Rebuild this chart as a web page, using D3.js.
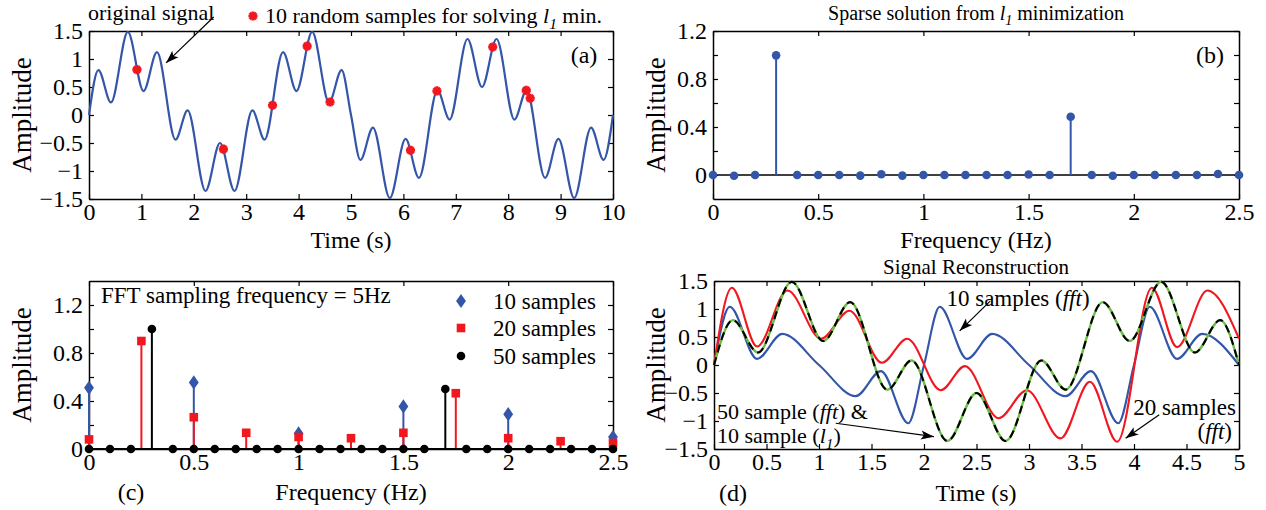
<!DOCTYPE html>
<html><head><meta charset="utf-8">
<script src="https://cdn.jsdelivr.net/npm/d3@7"></script>
<style>
body{margin:0;background:#fff;}
svg text{font-family:"Liberation Serif","Times New Roman",serif;fill:#000;}
</style></head>
<body><svg id="chart" width="1266" height="510"></svg>
<script>
// ---------- DATA ----------
// (a) original signal: extrema / crossings
const signalTime = [0,0.179,0.419,0.741,1.041,1.297,1.651,1.882,2.223,2.5,2.777,3.118,3.350,3.703,3.959,4.259,4.581,4.821,5.0,5.179,5.419,5.741,6.041,6.297,6.650,6.882,7.223,7.5,7.777,8.118,8.350,8.703,8.959,9.259,9.581,9.821,10];
const signalAmp  = [0,0.802,0.224,1.484,0.428,1.122,-0.441,0.081,-1.357,-0.5,-1.357,0.081,-0.439,1.122,0.428,1.484,0.224,0.802,0,-0.802,-0.224,-1.484,-0.428,-1.122,0.439,-0.081,1.357,0.5,1.357,-0.081,0.441,-1.122,-0.428,-1.484,-0.224,-0.802,0];
// (a) 10 random samples
const sampleTime = [0.915,2.565,3.503,4.163,4.60,6.135,6.64,7.705,8.345,8.42];
const sampleAmp  = [0.81,-0.61,0.175,1.23,0.232,-0.63,0.43,1.215,0.44,0.30];
// (b) sparse l1 solution
const l1Freq = [0,0.1,0.2,0.3,0.4,0.5,0.6,0.7,0.8,0.9,1.0,1.1,1.2,1.3,1.4,1.5,1.6,1.7,1.8,1.9,2.0,2.1,2.2,2.3,2.4,2.5];
const l1Amp  = [0,-0.006,0,0.997,0,0,0,-0.005,0.006,-0.005,0,0,0,0,0,0.004,0,0.485,0,-0.006,0,0,0,0,0.008,0];
// (c) FFT spectra
const fft10Freq = [0,0.5,1.0,1.5,2.0,2.5];
const fft10Amp  = [0.51,0.555,0.13,0.355,0.29,0.10];
const fft20Freq = [0,0.25,0.5,0.75,1.0,1.25,1.5,1.75,2.0,2.25,2.5];
const fft20Amp  = [0.08,0.90,0.265,0.135,0.10,0.09,0.135,0.465,0.09,0.065,0.05];
const fft50Freq = [0,0.1,0.2,0.3,0.4,0.5,0.6,0.7,0.8,0.9,1.0,1.1,1.2,1.3,1.4,1.5,1.6,1.7,1.8,1.9,2.0,2.1,2.2,2.3,2.4,2.5];
const fft50Amp  = [0,0,0,1.0,0,0,0,0,0,0,0,0,0,0,0,0,0,0.50,0,0,0,0,0,0,0,0];
// (d) reconstructions
const rec10Time = [0,0.15,0.41,0.65,1.0,1.35,1.59,1.85,2.0,2.15,2.41,2.65,3.0,3.35,3.59,3.85,4.0,4.15,4.41,4.65,5.0];
const rec10Amp  = [0,1.04,0.11,0.555,0,-0.555,-0.11,-1.04,0,1.04,0.11,0.555,0,-0.555,-0.11,-1.04,0,1.04,0.11,0.555,0];
const rec20Time = [0,0.17,0.41,0.70,1.02,1.29,1.60,1.84,2.16,2.39,2.71,2.98,3.30,3.58,3.84,4.17,4.41,4.70,5.0];
const rec20Amp  = [0,1.38,0.33,1.33,0.47,0.97,0.04,0.47,-0.45,-0.02,-0.95,-0.45,-1.31,-0.30,-1.37,1.38,0.32,1.33,0.47];
const recL1Time = signalTime.slice(0,19);   // 50-sample fft & 10-sample l1 (identical to original)
const recL1Amp  = signalAmp.slice(0,19);
// tick values / labels
const timeTicksA = [0,1,2,3,4,5,6,7,8,9,10];
const timeLabelsA = ["0","1","2","3","4","5","6","7","8","9","10"];
const ampTicks = [-1.5,-1,-0.5,0,0.5,1,1.5];
const ampLabels = ["\u22121.5","\u22121","\u22120.5","0","0.5","1","1.5"];
const freqTicks = [0,0.5,1,1.5,2,2.5];
const freqLabels = ["0","0.5","1","1.5","2","2.5"];
const specTicks = [0,0.2,0.4,0.6,0.8,1.0,1.2];
const specLabels = ["0","","0.4","","0.8","","1.2"];
const timeTicksD = [0,0.5,1,1.5,2,2.5,3,3.5,4,4.5,5];
const timeLabelsD = ["0","0.5","1","1.5","2","2.5","3","3.5","4","4.5","5"];

// ---------- STYLE ----------
const BLUE="#3456a8", RED="#f2171f", GREEN="#6cbd45", BLACK="#000";
const TICK_FS=24, LABEL_FS=24, YLABEL_FS=27, TEXT_FS=23;
const svg = d3.select("#chart");

function panel(x0,x1,y0,y1,xd,yd,xt,xl,yt,yl){
  const x = d3.scaleLinear().domain(xd).range([x0,x1]);
  const y = d3.scaleLinear().domain(yd).range([y1,y0]);
  const g = svg.append("g");
  const style = s => {
    s.attr("font-family",null).attr("font-size",null);
    s.selectAll("text").attr("font-size",TICK_FS).attr("fill","#000");
    s.select(".domain").attr("stroke","#000").attr("stroke-width",1.5);
    s.selectAll(".tick line").attr("stroke","#000").attr("stroke-width",1.2);
  };
  g.append("g").attr("transform",`translate(0,${y1})`)
    .call(d3.axisBottom(x).tickValues(xt).tickFormat((d,i)=>xl[i]).tickSizeInner(-5).tickSizeOuter(0).tickPadding(4)).call(style);
  g.append("g").attr("transform",`translate(0,${y0})`)
    .call(d3.axisTop(x).tickValues(xt).tickFormat("").tickSizeInner(-5).tickSizeOuter(0)).call(style);
  g.append("g").attr("transform",`translate(${x0},0)`)
    .call(d3.axisLeft(y).tickValues(yt).tickFormat((d,i)=>yl[i]).tickSizeInner(-5).tickSizeOuter(0).tickPadding(6)).call(style);
  g.append("g").attr("transform",`translate(${x1},0)`)
    .call(d3.axisRight(y).tickValues(yt).tickFormat("").tickSizeInner(-5).tickSizeOuter(0)).call(style);
  return {x,y,g};
}
function rich(g,x,y,parts,anchor,fs){
  const f = fs||TEXT_FS;
  const t = g.append("text").attr("x",x).attr("y",y).attr("font-size",f).attr("text-anchor",anchor||"start");
  let shift=0;
  parts.forEach(p=>{
    const s = t.append("tspan").text(p[0]);
    if(p[1]==="i") s.attr("font-style","italic");
    if(p[1]==="sub"){ s.attr("font-style","italic").attr("font-size",f*0.7).attr("dy",f*0.25); shift=f*0.25; }
    else if(shift){ s.attr("dy",-shift); shift=0; }
  });
  return t;
}
function arrow(g,x1,y1,x2,y2){
  g.append("line").attr("x1",x1).attr("y1",y1).attr("x2",x2).attr("y2",y2).attr("stroke","#000").attr("stroke-width",1.2);
  const a = Math.atan2(y2-y1,x2-x1)*180/Math.PI;
  g.append("path").attr("d","M0,0 L-13,-4.5 L-10,0 L-13,4.5 Z").attr("fill","#000")
    .attr("transform",`translate(${x2},${y2}) rotate(${a})`);
}
function ylabel(g,cx,cy,txt){
  g.append("text").attr("transform",`translate(${cx},${cy}) rotate(-90)`).attr("text-anchor","middle")
    .attr("font-size",YLABEL_FS).text(txt);
}
const starPath = d3.symbol().type(d3.symbolCross).size(46)();
function star(g,cx,cy){
  g.append("path").attr("d",starPath).attr("fill",RED).attr("transform",`translate(${cx},${cy})`);
  g.append("path").attr("d",starPath).attr("fill",RED).attr("transform",`translate(${cx},${cy}) rotate(45)`);
}
const tallDiamond = {draw(ctx,size){const h=Math.sqrt(size)*0.75,w=Math.sqrt(size)*0.52;ctx.moveTo(0,-h);ctx.lineTo(w,0);ctx.lineTo(0,h);ctx.lineTo(-w,0);ctx.closePath();}};

// ---------- (a) ----------
{
  const {x,y,g} = panel(89,613,31,199,[0,10],[-1.5,1.5],timeTicksA,timeLabelsA,ampTicks,ampLabels);
  const pts = signalTime.map((t,i)=>[t,signalAmp[i]]);
  g.append("path").attr("d",d3.line().x(d=>x(d[0])).y(d=>y(d[1])).curve(d3.curveMonotoneX)(pts))
    .attr("fill","none").attr("stroke",BLUE).attr("stroke-width",2.2);
  sampleTime.forEach((t,i)=>star(g,x(t),y(sampleAmp[i])));
  ylabel(g,31,115,"Amplitude");
  g.append("text").attr("x",351).attr("y",248).attr("text-anchor","middle").attr("font-size",LABEL_FS).text("Time (s)");
  g.append("text").attr("x",584).attr("y",63).attr("text-anchor","middle").attr("font-size",TICK_FS).text("(a)");
  rich(g,88,20,[["original signal","n"]],"start",22);
  arrow(g,x(2.38),y(1.75),x(1.47),y(0.93));
  star(g,253,16);
  rich(g,265,23,[["10 random samples for solving ","n"],["l","i"],["1","sub"],[" min.","n"]],"start",22);
}
// ---------- (b) ----------
{
  const {x,y,g} = panel(713,1239,31,199,[0,2.5],[-0.2,1.2],freqTicks,freqLabels,specTicks,specLabels);
  g.append("line").attr("x1",x(0)).attr("x2",x(2.5)).attr("y1",y(0)).attr("y2",y(0)).attr("stroke","#000").attr("stroke-width",1.5);
  l1Freq.forEach((f,i)=>{
    g.append("line").attr("x1",x(f)).attr("x2",x(f)).attr("y1",y(0)).attr("y2",y(l1Amp[i])).attr("stroke",BLUE).attr("stroke-width",2);
    g.append("circle").attr("cx",x(f)).attr("cy",y(l1Amp[i])).attr("r",4.3).attr("fill",BLUE);
  });
  ylabel(g,665,115,"Amplitude");
  g.append("text").attr("x",976).attr("y",248).attr("text-anchor","middle").attr("font-size",LABEL_FS).text("Frequency (Hz)");
  g.append("text").attr("x",1210).attr("y",63).attr("text-anchor","middle").attr("font-size",TICK_FS).text("(b)");
  rich(g,976,20,[["Sparse solution from ","n"],["l","i"],["1","sub"],[" minimization","n"]],"middle",20);
}
// ---------- (c) ----------
{
  const {x,y,g} = panel(89,613,281,449,[0,2.5],[0,1.4],freqTicks,freqLabels,specTicks,specLabels);
  const dia = d3.symbol().type(tallDiamond).size(90)();
  fft10Freq.forEach((f,i)=>{
    g.append("line").attr("x1",x(f)).attr("x2",x(f)).attr("y1",y(0)).attr("y2",y(fft10Amp[i])).attr("stroke",BLUE).attr("stroke-width",2);
    g.append("path").attr("d",dia).attr("fill",BLUE).attr("transform",`translate(${x(f)},${y(fft10Amp[i])})`);
  });
  fft20Freq.forEach((f,i)=>{
    g.append("line").attr("x1",x(f)).attr("x2",x(f)).attr("y1",y(0)).attr("y2",y(fft20Amp[i])).attr("stroke",RED).attr("stroke-width",2);
    g.append("rect").attr("x",x(f)-4.3).attr("y",y(fft20Amp[i])-4.3).attr("width",8.6).attr("height",8.6).attr("fill",RED);
  });
  g.append("line").attr("x1",x(0)).attr("x2",x(2.5)).attr("y1",y(0)).attr("y2",y(0)).attr("stroke","#000").attr("stroke-width",2);
  fft50Freq.forEach((f,i)=>{
    g.append("line").attr("x1",x(f)).attr("x2",x(f)).attr("y1",y(0)).attr("y2",y(fft50Amp[i])).attr("stroke",BLACK).attr("stroke-width",2);
    g.append("circle").attr("cx",x(f)).attr("cy",y(fft50Amp[i])).attr("r",4.3).attr("fill",BLACK);
  });
  ylabel(g,31,365,"Amplitude");
  g.append("text").attr("x",351).attr("y",500).attr("text-anchor","middle").attr("font-size",LABEL_FS).text("Frequency (Hz)");
  g.append("text").attr("x",131).attr("y",500).attr("text-anchor","middle").attr("font-size",TICK_FS).text("(c)");
  rich(g,101,303,[["FFT sampling frequency = 5Hz","n"]]);
  // legend
  g.append("path").attr("d",dia).attr("fill",BLUE).attr("transform","translate(461,301)");
  g.append("rect").attr("x",456.7).attr("y",323.7).attr("width",8.6).attr("height",8.6).attr("fill",RED);
  g.append("circle").attr("cx",461).attr("cy",356).attr("r",4.3).attr("fill",BLACK);
  rich(g,493,309,[["10 samples","n"]]);
  rich(g,493,336,[["20 samples","n"]]);
  rich(g,493,364,[["50 samples","n"]]);
}
// ---------- (d) ----------
{
  const {x,y,g} = panel(714,1239,281,449,[0,5],[-1.5,1.5],timeTicksD,timeLabelsD,ampTicks,ampLabels);
  const ln = d3.line().x(d=>x(d[0])).y(d=>y(d[1])).curve(d3.curveMonotoneX);
  const zip = (a,b)=>a.map((t,i)=>[t,b[i]]);
  g.append("path").attr("d",ln(zip(rec10Time,rec10Amp))).attr("fill","none").attr("stroke",BLUE).attr("stroke-width",2.1);
  g.append("path").attr("d",ln(zip(rec20Time,rec20Amp))).attr("fill","none").attr("stroke",RED).attr("stroke-width",2.1);
  g.append("path").attr("d",ln(zip(recL1Time,recL1Amp))).attr("fill","none").attr("stroke",GREEN).attr("stroke-width",2.4);
  g.append("path").attr("d",ln(zip(recL1Time,recL1Amp))).attr("fill","none").attr("stroke",BLACK).attr("stroke-width",2.1).attr("stroke-dasharray","8,5");
  ylabel(g,665,365,"Amplitude");
  g.append("text").attr("x",976).attr("y",501).attr("text-anchor","middle").attr("font-size",LABEL_FS).text("Time (s)");
  g.append("text").attr("x",733).attr("y",501).attr("text-anchor","middle").attr("font-size",TICK_FS).text("(d)");
  g.append("text").attr("x",976).attr("y",274).attr("text-anchor","middle").attr("font-size",21).text("Signal Reconstruction");
  rich(g,1018,306,[["10 samples (","n"],["fft","i"],[")","n"]],"middle");
  arrow(g,x(2.63),y(1.14),x(2.34),y(0.61));
  rich(g,717,419,[["50 sample (","n"],["fft","i"],[") &","n"]],"start",22);
  rich(g,717,443,[["10 sample (","n"],["l","i"],["1","sub"],[")","n"]],"start",22);
  arrow(g,x(1.16),y(-1.04),x(2.095),y(-1.28));
  rich(g,1236,415,[["20 samples","n"]],"end");
  rich(g,1232,439,[["(","n"],["fft","i"],[")","n"]],"end");
  arrow(g,x(4.24),y(-0.89),x(3.92),y(-1.31));
}
</script></body></html>
